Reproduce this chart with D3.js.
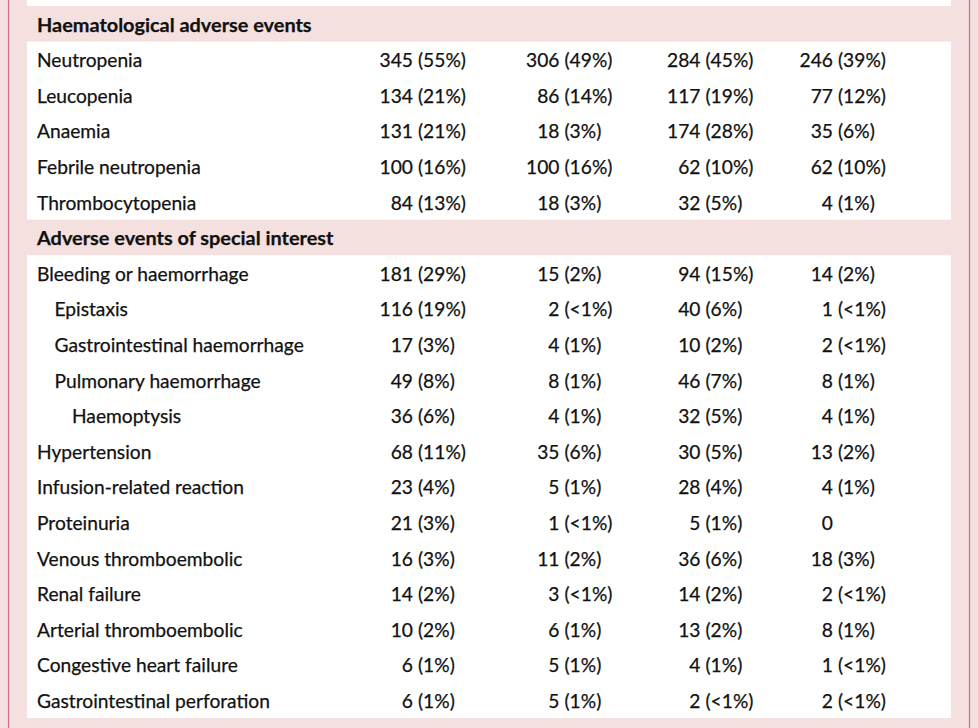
<!DOCTYPE html>
<html>
<head>
<meta charset="utf-8">
<script src="https://cdn.jsdelivr.net/npm/d3@7"></script>
<style>
  html, body { margin: 0; padding: 0; background: #f4e0df; }
  svg { display: block; }
  text { font-family: Lato, "Open Sans", sans-serif; fill: #111111; stroke: #111111; stroke-width: 0.25px; }
</style>
</head>
<body>
<svg id="chart" width="978" height="728"></svg>
<script>
// ---- data ----
const groups = ["Haematological adverse events", "Adverse events of special interest"];
const events = [
  "Neutropenia", "Leucopenia", "Anaemia", "Febrile neutropenia", "Thrombocytopenia",
  "Bleeding or haemorrhage", "Epistaxis", "Gastrointestinal haemorrhage", "Pulmonary haemorrhage",
  "Haemoptysis", "Hypertension", "Infusion-related reaction", "Proteinuria",
  "Venous thromboembolic", "Renal failure", "Arterial thromboembolic",
  "Congestive heart failure", "Gastrointestinal perforation"
];
const eventGroup  = [0,0,0,0,0, 1,1,1,1,1,1,1,1,1,1,1,1,1];
const indentLevel = [0,0,0,0,0, 0,1,1,1,2,0,0,0,0,0,0,0,0];

const col1N = [345,134,131,100,84, 181,116,17,49,36,68,23,21,16,14,10,6,6];
const col1P = ["55%","21%","21%","16%","13%", "29%","19%","3%","8%","6%","11%","4%","3%","3%","2%","2%","1%","1%"];
const col2N = [306,86,18,100,18, 15,2,4,8,4,35,5,1,11,3,6,5,5];
const col2P = ["49%","14%","3%","16%","3%", "2%","<1%","1%","1%","1%","6%","1%","<1%","2%","<1%","1%","1%","1%"];
const col3N = [284,117,174,62,32, 94,40,10,46,32,30,28,5,36,14,13,4,2];
const col3P = ["45%","19%","28%","10%","5%", "15%","6%","2%","7%","5%","5%","4%","1%","6%","2%","2%","1%","<1%"];
const col4N = [246,77,35,62,4, 14,1,2,8,4,13,4,0,18,2,8,1,2];
const col4P = ["39%","12%","6%","10%","1%", "2%","<1%","<1%","1%","1%","2%","1%",null,"3%","<1%","1%","<1%","<1%"];

// ---- layout ----
const W = 978, H = 728;
const svg = d3.select("#chart");

const lines = [];
groups.forEach((g, gi) => {
  lines.push({type: "header", label: g});
  events.forEach((e, i) => {
    if (eventGroup[i] === gi) lines.push({type: "row", i: i});
  });
});

const y = d3.scaleBand().domain(d3.range(lines.length)).range([6, 718]).padding(0);
const panelX0 = 27, panelX1 = 951;
const indent = d3.scaleLinear().domain([0, 1]).range([37, 54.5]);
const cols = [
  {N: col1N, P: col1P},
  {N: col2N, P: col2P},
  {N: col3N, P: col3P},
  {N: col4N, P: col4P}
];
const parenX = [418, 564.5, 705.5, 838];

svg.append("rect").attr("x", 0).attr("y", 0).attr("width", W).attr("height", H).attr("fill", "#f4e0df");
svg.append("rect").attr("x", panelX0).attr("y", 0).attr("width", panelX1 - panelX0).attr("height", 718).attr("fill", "#ffffff");

lines.forEach((l, k) => {
  if (l.type === "header") {
    svg.append("rect").attr("x", panelX0).attr("y", y(k)).attr("width", panelX1 - panelX0)
      .attr("height", y.bandwidth()).attr("fill", "#f4e0df");
  }
});

svg.append("line").attr("x1", 8.5).attr("x2", 8.5).attr("y1", 0).attr("y2", H)
  .attr("stroke", "#d66a84").attr("stroke-width", 1.2);
svg.append("line").attr("x1", 969.5).attr("x2", 969.5).attr("y1", 0).attr("y2", H)
  .attr("stroke", "#d66a84").attr("stroke-width", 1.2);

const fs = 19.2;
const fsB = 19.9;
const baseOff = 25.5;

lines.forEach((l, k) => {
  const by = y(k) + baseOff;
  if (l.type === "header") {
    svg.append("text").attr("x", 37).attr("y", by).attr("font-size", fsB)
      .attr("font-weight", "bold").text(l.label);
  } else {
    const i = l.i;
    svg.append("text").attr("x", indent(indentLevel[i])).attr("y", by)
      .attr("font-size", fs).text(events[i]);
    cols.forEach((c, ci) => {
      svg.append("text").attr("x", parenX[ci] - 5).attr("y", by).attr("font-size", fs)
        .attr("text-anchor", "end").text(c.N[i]);
      if (c.P[i] !== null) {
        svg.append("text").attr("x", parenX[ci]).attr("y", by).attr("font-size", fs)
          .attr("text-anchor", "start").text("(" + c.P[i] + ")");
      }
    });
  }
});
</script>
</body>
</html>
